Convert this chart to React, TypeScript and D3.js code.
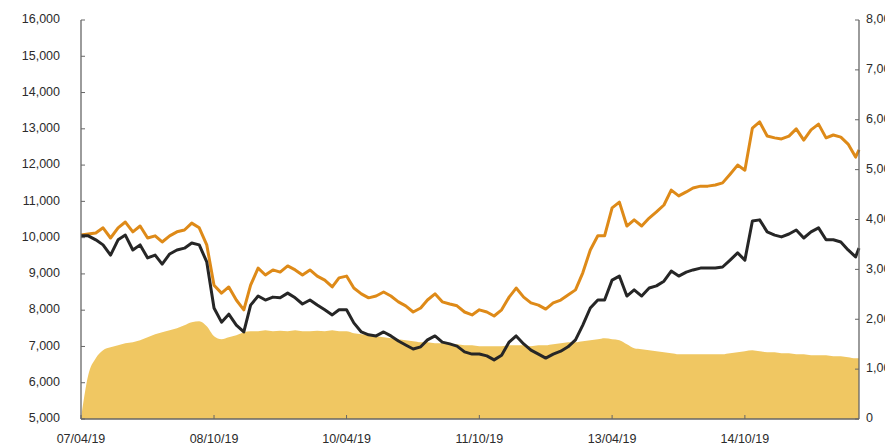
import React, { useEffect, useRef } from "react";
import * as d3 from "d3";

// monthly samples, dated on the 19th, last point early Feb 2016
const startDate = "2007-04-19";
const endDate = "2016-02-02";

const orangeSeries = [
  10070, 10100, 10130, 10270, 9990, 10270, 10430, 10160, 10320, 9990, 10050, 9880, 10050, 10160, 10210, 10400,
  10270, 9800, 8690, 8470, 8640, 8280, 8010, 8690, 9160, 8970, 9110, 9050, 9220, 9110, 8970, 9110, 8940, 8830,
  8640, 8890, 8940, 8610, 8450, 8340, 8390, 8500, 8390, 8230, 8120, 7950, 8060, 8280, 8450, 8230, 8170, 8120,
  7950, 7870, 8010, 7950, 7840, 8010, 8360, 8610, 8360, 8200, 8140, 8030, 8200, 8280, 8420, 8560, 9030, 9660,
  10050, 10050, 10820, 10980, 10320, 10490, 10320, 10540, 10710, 10900, 11310, 11150, 11260, 11370, 11420,
  11420, 11450, 11510, 11750, 12000, 11860, 13020, 13190, 12800, 12750, 12720, 12800, 13000, 12690, 12970,
  13130, 12750, 12830, 12770, 12580, 12220, 12420,
];

const blackSeries = [
  10050, 10050, 9940, 9800, 9520, 9940, 10070, 9660, 9800, 9440, 9520, 9270, 9550, 9660, 9710, 9850, 9800,
  9330, 8060, 7670, 7890, 7590, 7400, 8140, 8390, 8280, 8360, 8340, 8470, 8340, 8170, 8280, 8140, 8010, 7870,
  8010, 8010, 7650, 7400, 7320, 7290, 7400, 7290, 7150, 7040, 6930, 6990, 7180, 7290, 7120, 7070, 7010, 6850,
  6790, 6790, 6740, 6630, 6760, 7120, 7290, 7070, 6900, 6790, 6680, 6790, 6870, 6990, 7180, 7590, 8060, 8280,
  8280, 8830, 8940, 8390, 8560, 8390, 8610, 8670, 8800, 9080, 8940, 9050, 9110, 9160, 9160, 9160, 9190, 9380,
  9580, 9380, 10460, 10490, 10160, 10070, 10020, 10100, 10210, 9990, 10160, 10270, 9940, 9940, 9880, 9660,
  9470, 9710,
];

// right-axis series (shaded area)
const areaSeries = [
  0, 880, 1220, 1380, 1440, 1480, 1520, 1540, 1580, 1640, 1700, 1740, 1780, 1820, 1880, 1940, 1960, 1860, 1660,
  1600, 1640, 1680, 1740, 1760, 1760, 1780, 1760, 1770, 1760, 1780, 1760, 1760, 1770, 1760, 1780, 1760, 1760,
  1720, 1700, 1680, 1660, 1640, 1620, 1600, 1580, 1560, 1540, 1540, 1520, 1520, 1500, 1500, 1480, 1480, 1460,
  1460, 1460, 1460, 1480, 1480, 1480, 1460, 1480, 1480, 1500, 1520, 1540, 1540, 1560, 1580, 1600, 1620, 1600,
  1580, 1500, 1420, 1400, 1380, 1360, 1340, 1320, 1300, 1300, 1300, 1300, 1300, 1300, 1300, 1320, 1340, 1360,
  1380, 1360, 1340, 1340, 1320, 1320, 1300, 1300, 1280, 1280, 1280, 1260, 1260, 1240, 1220, 1220,
];

const leftTicks = [5000, 6000, 7000, 8000, 9000, 10000, 11000, 12000, 13000, 14000, 15000, 16000];
const rightTicks = [0, 1000, 2000, 3000, 4000, 5000, 6000, 7000, 8000];
const dateTicks = ["2007-04-19", "2008-10-19", "2010-04-19", "2011-10-19", "2013-04-19", "2014-10-19"];

const parse = d3.timeParse("%Y-%m-%d");

const buildDates = (): Date[] => {
  const s = parse(startDate)!;
  const dates: Date[] = [];
  for (let i = 0; i < orangeSeries.length - 1; i++) dates.push(d3.timeMonth.offset(s, i));
  dates.push(parse(endDate)!);
  return dates;
};

const App: React.FC = () => {
  const svgRef = useRef<SVGSVGElement | null>(null);
  const width = 885;
  const height = 444;

  useEffect(() => {
    if (!svgRef.current) return;
    const svg = d3.select(svgRef.current);
    svg.selectAll("*").remove();

    const left = 81;
    const right = 859;
    const top = 20;
    const bottom = 419;
    const dates = buildDates();

    const x = d3.scaleTime().domain([parse(startDate)!, parse(endDate)!]).range([left, right]);
    const yL = d3.scaleLinear().domain([5000, 16000]).range([bottom, top]);
    const yR = d3.scaleLinear().domain([0, 8000]).range([bottom, top]);
    const font = "'Liberation Sans', Arial, sans-serif";
    const axisColor = "#666";
    const textColor = "#2b2b2b";

    // shaded area on right axis
    const area = d3
      .area<number>()
      .x((_, i) => x(dates[i]))
      .y0(yR(0))
      .y1((d) => yR(d))
      .curve(d3.curveMonotoneX);
    svg.append("path").datum(areaSeries).attr("d", area).attr("fill", "#F0C762");

    const line = d3
      .line<number>()
      .x((_, i) => x(dates[i]))
      .y((d) => yL(d));

    svg
      .append("path")
      .datum(orangeSeries)
      .attr("d", line)
      .attr("fill", "none")
      .attr("stroke", "#DE8A18")
      .attr("stroke-width", 3)
      .attr("stroke-linejoin", "round");

    svg
      .append("path")
      .datum(blackSeries)
      .attr("d", line)
      .attr("fill", "none")
      .attr("stroke", "#262626")
      .attr("stroke-width", 3)
      .attr("stroke-linejoin", "round");

    // axis lines
    svg.append("line").attr("x1", left).attr("x2", left).attr("y1", top).attr("y2", bottom).attr("stroke", axisColor).attr("stroke-width", 1.3);
    svg.append("line").attr("x1", right).attr("x2", right).attr("y1", top).attr("y2", bottom).attr("stroke", axisColor).attr("stroke-width", 1.3);
    svg.append("line").attr("x1", left).attr("x2", right).attr("y1", bottom).attr("y2", bottom).attr("stroke", axisColor).attr("stroke-width", 1.3);

    // left axis
    leftTicks.forEach((t) => {
      svg.append("line").attr("x1", left).attr("x2", left + 4).attr("y1", yL(t)).attr("y2", yL(t)).attr("stroke", axisColor);
      svg
        .append("text")
        .attr("x", 60)
        .attr("y", yL(t))
        .attr("text-anchor", "end")
        .attr("dominant-baseline", "middle")
        .style("font-family", font)
        .style("font-size", "12.5px")
        .attr("fill", textColor)
        .text(d3.format(",")(t));
    });

    // right axis (labels run past the frame edge, as in the source)
    rightTicks.forEach((t) => {
      svg.append("line").attr("x1", right - 4).attr("x2", right).attr("y1", yR(t)).attr("y2", yR(t)).attr("stroke", axisColor);
      svg
        .append("text")
        .attr("x", 866)
        .attr("y", yR(t))
        .attr("text-anchor", "start")
        .attr("dominant-baseline", "middle")
        .style("font-family", font)
        .style("font-size", "12.5px")
        .attr("fill", textColor)
        .text(d3.format(",")(t));
    });

    // bottom axis
    dateTicks.forEach((d) => {
      const dt = parse(d)!;
      svg.append("line").attr("x1", x(dt)).attr("x2", x(dt)).attr("y1", bottom - 4).attr("y2", bottom).attr("stroke", axisColor);
      svg
        .append("text")
        .attr("x", x(dt))
        .attr("y", 443)
        .attr("text-anchor", "middle")
        .style("font-family", font)
        .style("font-size", "12.5px")
        .attr("fill", textColor)
        .text(d3.timeFormat("%y/%m/%d")(dt));
    });
  }, []);

  return (
    <svg
      ref={svgRef}
      width={width}
      height={height}
      style={{ position: "absolute", left: 0, top: 0, background: "#fff" }}
    />
  );
};

export default App;
